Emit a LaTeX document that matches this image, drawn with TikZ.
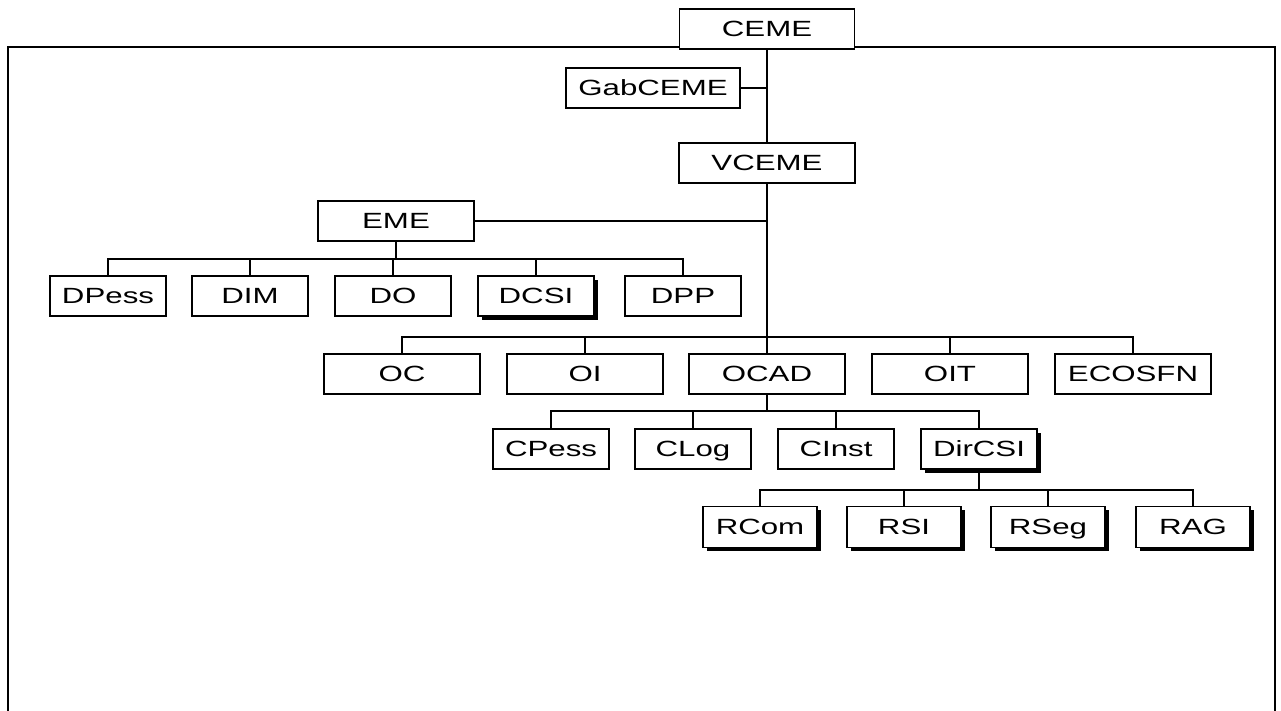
\documentclass[tikz,border=0pt]{standalone}
\usepackage{fontspec}
\setmainfont{Liberation Sans}[FakeStretch=1.42]
\usetikzlibrary{shadows}
\begin{document}
\begin{tikzpicture}[x=1pt,y=-1pt,
  unit/.style={draw, line width=1.4pt, fill=white, inner sep=0pt,
    minimum height=40pt, text height=15.8pt, text depth=0pt,
    font=\fontsize{22}{26}\selectfont},
  wide/.style={unit, minimum width=156pt},
  narrow/.style={unit, minimum width=116pt},
  shaded/.style={drop shadow={opacity=1, fill=black, shadow xshift=3.5pt, shadow yshift=-3.5pt}},
  link/.style={line width=1.4pt}]
\useasboundingbox (0,0) rectangle (1281,711);

% outer frame, open at the bottom
\draw[line width=2pt] (8,711) -- (8,47) -- (1275,47) -- (1275,711);

% top of the hierarchy
\node[unit, minimum width=175pt] (ceme) at (767,29) {CEME};
\node[unit, minimum width=174pt] (gab) at (653,88) {GabCEME};
\node[unit, minimum width=176pt] (vceme) at (767,163) {VCEME};
\node[unit, minimum width=156pt] (eme) at (396,221) {EME};

% EME departments
\node[narrow] (dpess) at (108,296) {DPess};
\node[narrow] (dim) at (250,296) {DIM};
\node[narrow] (do) at (393,296) {DO};
\node[narrow, shaded] (dcsi) at (536,296) {DCSI};
\node[narrow] (dpp) at (683,296) {DPP};

% second level bodies
\node[wide] (oc) at (402,374) {OC};
\node[wide] (oi) at (585,374) {OI};
\node[wide] (ocad) at (767,374) {OCAD};
\node[wide] (oit) at (950,374) {OIT};
\node[wide] (ecosfn) at (1133,374) {ECOSFN};

% OCAD sections
\node[narrow] (cpess) at (551,449) {CPess};
\node[narrow] (clog) at (693,449) {CLog};
\node[narrow] (cinst) at (836,449) {CInst};
\node[narrow, shaded] (dircsi) at (979,449) {DirCSI};

% DirCSI offices
\node[unit, minimum width=114pt, minimum height=41pt, shaded] (rcom) at (760,527) {RCom};
\node[unit, minimum width=114pt, minimum height=41pt, shaded] (rsi) at (904,527) {RSI};
\node[unit, minimum width=114pt, minimum height=41pt, shaded] (rseg) at (1048,527) {RSeg};
\node[unit, minimum width=114pt, minimum height=41pt, shaded] (rag) at (1193,527) {RAG};

% bus lines
\coordinate (busd) at (0,259);
\coordinate (buso) at (0,337);
\coordinate (busc) at (0,411);
\coordinate (busr) at (0,490);

% main trunk
\draw[link] (ceme.south) -- (vceme.north);
\draw[link] (gab.east) -- (gab.east -| ceme.south);
\draw[link] (vceme.south) -- (ocad.north);
\draw[link] (eme.east) -- (eme.east -| vceme.south);

% EME branch
\draw[link] (eme.south) -- (eme.south |- busd);
\draw[link] (dpess.north) -- (dpess.north |- busd) -- (dpp.north |- busd) -- (dpp.north);
\foreach \n in {dim,do,dcsi} \draw[link] (\n.north) -- (\n.north |- busd);

% second level branch
\draw[link] (oc.north) -- (oc.north |- buso) -- (ecosfn.north |- buso) -- (ecosfn.north);
\foreach \n in {oi,oit} \draw[link] (\n.north) -- (\n.north |- buso);

% OCAD branch
\draw[link] (ocad.south) -- (ocad.south |- busc);
\draw[link] (cpess.north) -- (cpess.north |- busc) -- (dircsi.north |- busc) -- (dircsi.north);
\foreach \n in {clog,cinst} \draw[link] (\n.north) -- (\n.north |- busc);

% DirCSI branch
\draw[link] (dircsi.south) -- (dircsi.south |- busr);
\draw[link] (rcom.north) -- (rcom.north |- busr) -- (rag.north |- busr) -- (rag.north);
\foreach \n in {rsi,rseg} \draw[link] (\n.north) -- (\n.north |- busr);
\end{tikzpicture}
\end{document}
